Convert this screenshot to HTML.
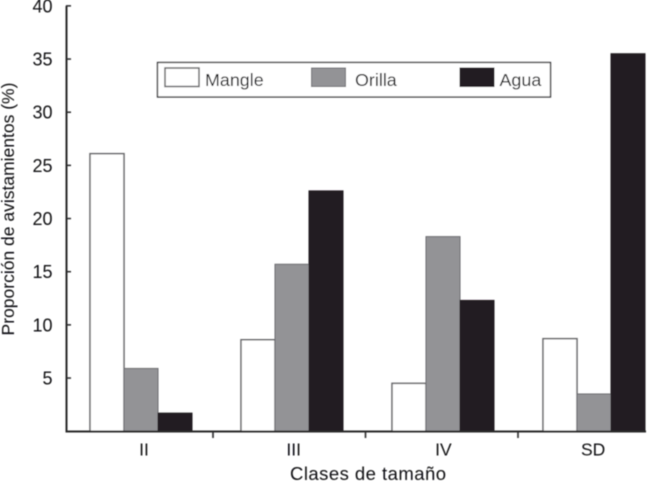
<!DOCTYPE html>
<html>
<head>
<meta charset="utf-8">
<style>
html,body{margin:0;padding:0;background:#fff;width:650px;height:482px;overflow:hidden}
svg{display:block}
text{font-family:"Liberation Sans",sans-serif;fill:#111112}
</style>
</head>
<body>
<svg id="chart" xmlns="http://www.w3.org/2000/svg" width="650" height="482" viewBox="0 0 650 482">
<defs><filter id="soft" x="-5%" y="-5%" width="110%" height="110%"><feGaussianBlur stdDeviation="0.4"/></filter></defs>
<g id="root" filter="url(#soft)"></g>
</svg>
<script>
const categories = ['II', 'III', 'IV', 'SD'];
const mangle = [26.1, 8.6, 4.5, 8.7];
const orilla = [5.9, 15.7, 18.3, 3.5];
const agua = [1.7, 22.6, 12.3, 35.5];
const yTicks = [5, 10, 15, 20, 25, 30, 35, 40];
const seriesNames = ['Mangle', 'Orilla', 'Agua'];

const NS = 'http://www.w3.org/2000/svg';
const root = document.getElementById('root');
const styles = [
  {fill: '#ffffff', stroke: '#666669', sw: 1.5},
  {fill: '#939396', stroke: '#6c6c6f', sw: 1},
  {fill: '#231f20', stroke: '#231f20', sw: 1}
];
const yScale = v => 431.2 - v * 10.633;
const groupX = i => 90 + i * 151;
const labelCenter = i => 144 + i * 149.7;
const tickX = i => 60.5 + i * 152.5;
const barW = 34;
function make(tag, attrs, parent) {
  const el = document.createElementNS(NS, tag);
  for (const k in attrs) el.setAttribute(k, attrs[k]);
  (parent || root).appendChild(el);
  return el;
}

[mangle, orilla, agua].forEach((vals, s) => {
  vals.forEach((v, i) => {
    const r = make('rect', {
      x: groupX(i) + s * barW, y: yScale(v),
      width: barW, height: yScale(0) - yScale(v),
      fill: styles[s].fill, stroke: styles[s].stroke, 'stroke-width': styles[s].sw
    });
    
    
  });
});

const yAxis = make('line', {x1: 66.5, x2: 66.5, y1: yScale(40), y2: yScale(0) + 1, stroke: '#2a2a2c', 'stroke-width': 2});


const xAxis = make('line', {x1: 65.5, x2: 646, y1: yScale(0) + 0.3, y2: yScale(0) + 0.3, stroke: '#2a2a2c', 'stroke-width': 2});



yTicks.forEach(t => {
  const tick = make('line', {x1: 66, x2: 71, y1: yScale(t), y2: yScale(t), stroke: '#2a2a2c', 'stroke-width': 1.5});
  
  
  const lab = make('text', {x: 52.5, y: yScale(t) + 6.5, 'text-anchor': 'end', 'font-size': 18});
  
  
  lab.textContent = t;
});

categories.forEach((c, i) => {
  const lab = make('text', {x: labelCenter(i), y: 455.5, 'text-anchor': 'middle', 'font-size': 17.5});
  
  
  lab.textContent = c;
  if (i > 0) {
    const tick = make('line', {x1: tickX(i), x2: tickX(i), y1: 431, y2: 438, stroke: '#2a2a2c', 'stroke-width': 1.6});
    
    
  }
});

const xTitle = make('text', {x: 290, y: 480, 'font-size': 18.5, textLength: 156, lengthAdjust: 'spacing'});


xTitle.textContent = 'Clases de tamaño';

const yTitle = make('text', {x: 0, y: 0, 'text-anchor': 'middle', 'font-size': 17.5, transform: 'translate(14,209) rotate(-90)'});


yTitle.textContent = 'Proporción de avistamientos (%)';

const legend = make('g', {});


const legendBox = make('rect', {x: 157.5, y: 62.5, width: 393, height: 34.5, fill: '#fff', stroke: '#333335', 'stroke-width': 1.3}, legend);


const swatchX = [165, 311.5, 460];
const labelX = [205, 355, 499.5];
seriesNames.forEach((n, s) => {
  const sw = make('rect', {x: swatchX[s], y: 68, width: 34, height: 18.5, fill: styles[s].fill, stroke: styles[s].stroke, 'stroke-width': styles[s].sw}, legend);
  
  
  const t = make('text', {x: labelX[s], y: 86, 'font-size': 17.9}, legend);
  
  
  t.textContent = n;
});
</script>
</body>
</html>
